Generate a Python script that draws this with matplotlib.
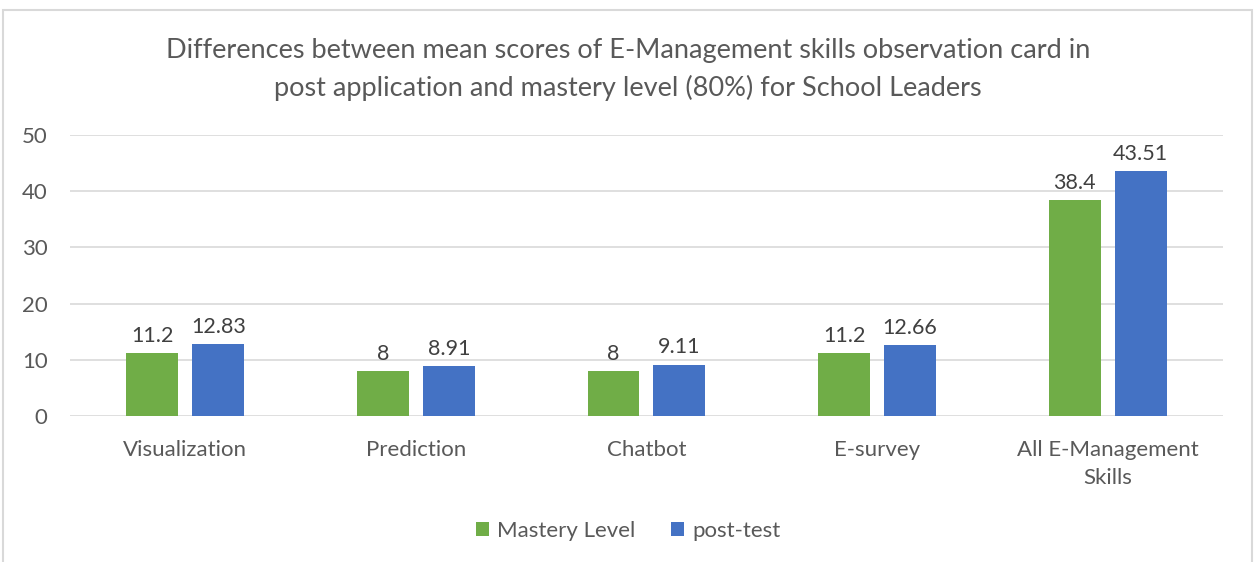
import matplotlib.pyplot as plt
import matplotlib.patches as mpatches
import numpy as np

categories = ["Visualization", "Prediction", "Chatbot", "E-survey", "All E-Management\nSkills"]
mastery = [11.2, 8, 8, 11.2, 38.4]
post_test = [12.83, 8.91, 9.11, 12.66, 43.51]
mastery_labels = ["11.2", "8", "8", "11.2", "38.4"]
post_labels = ["12.83", "8.91", "9.11", "12.66", "43.51"]

plt.rcParams["font.family"] = ["Lato", "DejaVu Sans"]
txt = "#595959"

fig = plt.figure(figsize=(12.56, 5.62), dpi=100)
ax = fig.add_axes([0.0557, 0.2598, 0.918, 0.5])

# chart frame
fig.patches.append(mpatches.Rectangle((3 / 1256, -0.05), 1249 / 1256, 1.05 - 10 / 562,
                                      transform=fig.transFigure, fill=False,
                                      edgecolor="#d9d9d9", linewidth=1.5))

x = np.arange(len(categories))
w = 0.225
off = 0.143
b1 = ax.bar(x - off, mastery, w, color="#70ad47", label="Mastery Level", zorder=3)
b2 = ax.bar(x + off, post_test, w, color="#4472c4", label="post-test", zorder=3)

for rect, lab in zip(b1, mastery_labels):
    ax.text(rect.get_x() + rect.get_width() / 2, rect.get_height() + 1.3, lab,
            ha="center", va="bottom", fontsize=15.5, color="#404040")
for rect, lab in zip(b2, post_labels):
    ax.text(rect.get_x() + rect.get_width() / 2, rect.get_height() + 1.3, lab,
            ha="center", va="bottom", fontsize=15.5, color="#404040")

ax.set_xlim(-0.5, 4.5)
ax.set_ylim(0, 50)
ax.set_yticks(range(0, 51, 10))
ax.yaxis.grid(True, color="#d9d9d9", linewidth=1.2, zorder=0)
for s in ax.spines.values():
    s.set_visible(False)
ax.tick_params(axis="both", length=0, labelsize=16, labelcolor=txt)
ax.tick_params(axis="y", pad=16)
ax.tick_params(axis="x", pad=17)
ax.set_xticks(x)
ax.set_xticklabels(categories, linespacing=1.55)

fig.text(0.5, 0.876, "Differences between mean scores of E-Management skills observation card in\n"
         "post application and mastery level (80%) for School Leaders",
         ha="center", va="center", fontsize=19.5, color=txt, linespacing=1.55)

fig.legend(loc="center", bbox_to_anchor=(0.5, 0.055), ncol=2, frameon=False,
           fontsize=16, labelcolor=txt, handlelength=0.6, handleheight=0.6,
           handletextpad=0.35, columnspacing=1.6)

fig.savefig("out.png", dpi=100)
